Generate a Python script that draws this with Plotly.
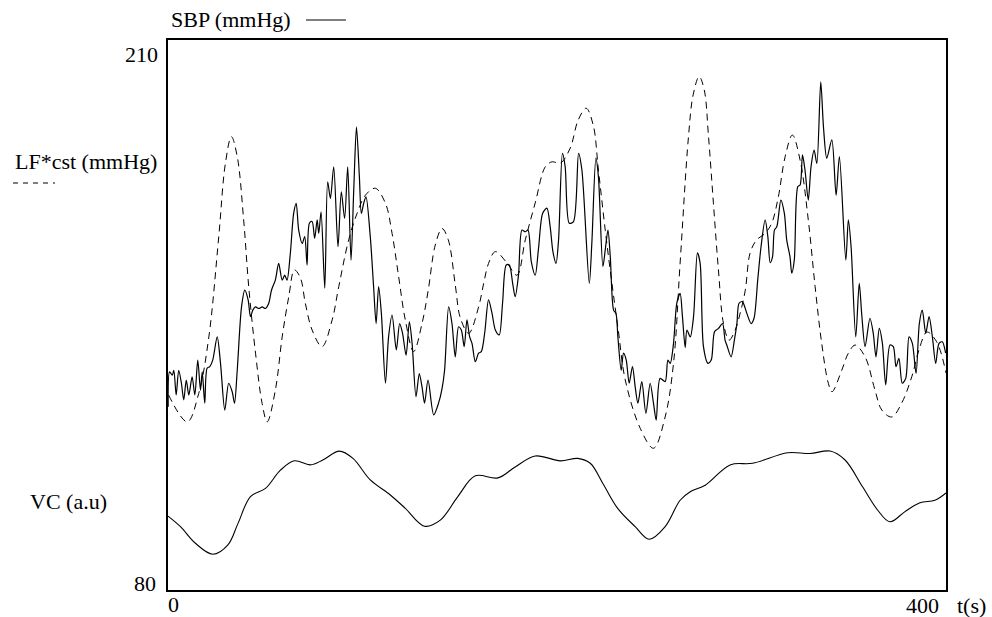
import plotly.graph_objects as go

# ---- data ----
sbp_t = [0.1, 0.8, 2.2, 3.0, 4.2, 5.5, 6.9, 8.1, 9.4, 10.7, 12.4, 13.8, 15.3, 16.7, 17.6, 18.9, 20.1, 21.5, 23.0, 25.3,
         27.0, 29.2, 31.2, 33.0, 34.2, 35.6, 37.8, 39.5, 41.2, 42.4, 43.6, 45.0, 46.7, 48.4, 50.1, 51.8, 53.2, 55.2, 56.9, 58.7,
         60.0, 61.2, 62.9, 64.6, 65.9, 67.2, 69.0, 70.3, 71.5, 72.7, 74.1, 75.4, 76.7, 77.5, 78.7, 80.6, 82.1, 83.5, 85.2, 87.4,
         89.1, 90.8, 92.4, 94.1, 95.5, 96.9, 98.4, 99.4, 100.6, 101.8, 104.0, 105.7, 107.0, 108.3, 109.7, 111.8, 113.4, 115.2, 117.4, 119.1,
         120.6, 122.4, 124.1, 125.5, 127.5, 129.2, 130.6, 131.9, 133.7, 136.6, 139.1, 140.9, 142.2, 144.3, 146.0, 147.7, 149.4, 150.8, 152.3, 153.7,
         155.1, 156.3, 158.0, 159.7, 161.1, 162.8, 164.8, 166.6, 168.3, 170.3, 172.0, 173.9, 175.5, 177.2, 178.5, 180.2, 182.0, 183.7, 185.1, 186.8,
         188.8, 190.5, 192.6, 194.8, 196.5, 197.9, 199.5, 200.8, 202.8, 204.2, 206.3, 208.5, 211.1, 212.8, 216.6, 217.9, 220.0, 221.3, 223.6, 224.8,
         226.2, 227.4, 229.1, 230.3, 231.3, 233.0, 234.2, 235.6, 237.1, 238.8, 240.2, 241.6, 243.6, 245.7, 247.9, 249.6, 251.0, 253.0, 255.6, 257.0,
         258.2, 259.9, 261.6, 263.3, 264.5, 265.9, 266.8, 268.5, 270.2, 272.2, 273.6, 275.3, 277.6, 279.3, 281.0, 283.0, 285.1, 286.4, 287.3, 289.5,
         291.2, 292.5, 293.6, 295.3, 297.6, 299.8, 301.3, 303.2, 304.9, 307.0, 308.4, 309.6, 310.8, 311.8, 313.0, 315.1, 316.9, 318.1, 319.8, 320.7,
         322.0, 323.8, 325.0, 326.2, 327.5, 329.2, 330.6, 332.2, 333.6, 335.6, 337.0, 338.7, 341.3, 343.5, 345.2, 348.5, 349.8, 351.2, 353.6, 355.4,
         356.7, 358.4, 360.9, 362.6, 364.0, 365.7, 367.3, 369.0, 371.2, 372.9, 374.3, 375.8, 377.5, 379.3, 381.0, 382.7, 384.6, 386.3, 387.8, 389.6,
         391.3, 393.0, 394.7, 396.4, 398.1, 399.8]
sbp_v = [123.4, 132.0, 131.2, 132.4, 126.3, 132.4, 129.2, 125.1, 130.0, 126.3, 130.8, 126.3, 134.9, 127.5, 132.0, 124.3, 132.9, 133.3, 134.9, 140.6,
         134.1, 122.6, 129.2, 127.1, 124.3, 132.4, 148.0, 152.1, 149.7, 145.6, 147.2, 148.0, 147.6, 148.0, 147.6, 148.9, 152.1, 154.6, 158.7, 154.6,
         155.8, 154.6, 161.2, 171.0, 173.5, 166.9, 163.6, 165.3, 158.3, 168.6, 169.0, 164.9, 169.4, 166.1, 171.4, 152.6, 178.8, 174.7, 182.5, 162.8,
         176.3, 169.8, 182.5, 159.5, 176.8, 192.3, 180.0, 171.0, 173.5, 175.1, 165.3, 153.0, 143.9, 153.0, 146.4, 129.2, 140.6, 146.0, 137.4, 143.9,
         141.5, 136.1, 144.3, 139.0, 125.9, 131.6, 128.3, 124.3, 130.0, 121.4, 124.3, 127.9, 132.4, 148.0, 143.9, 135.7, 143.1, 142.3, 138.2, 144.8,
         140.6, 139.0, 134.5, 136.6, 137.0, 141.5, 149.7, 146.4, 142.3, 141.1, 148.9, 158.3, 158.3, 153.8, 150.5, 155.8, 166.9, 166.5, 166.9, 159.1,
         155.8, 162.4, 171.0, 172.3, 167.7, 161.6, 158.7, 164.5, 185.8, 182.5, 168.6, 169.0, 185.8, 181.7, 153.8, 163.6, 184.6, 180.0, 157.9, 162.0,
         166.9, 160.3, 147.2, 146.4, 140.6, 132.4, 136.6, 134.9, 129.2, 133.3, 128.3, 124.3, 129.6, 121.8, 129.2, 124.3, 120.1, 130.4, 129.6, 134.9,
         134.1, 139.0, 148.9, 151.3, 145.6, 138.0, 142.3, 140.6, 145.6, 161.3, 158.7, 138.2, 134.1, 134.9, 141.9, 142.7, 143.9, 139.8, 138.6, 135.7,
         139.8, 143.9, 148.9, 149.3, 146.4, 143.9, 145.2, 154.6, 162.8, 169.4, 165.3, 158.9, 160.3, 166.9, 167.7, 174.3, 171.0, 164.5, 160.3, 156.3,
         159.5, 177.6, 178.0, 185.4, 181.7, 174.3, 182.5, 186.6, 183.3, 203.4, 192.3, 184.6, 189.1, 175.5, 185.0, 159.5, 169.4, 162.8, 140.6, 153.8,
         146.0, 138.2, 145.2, 141.5, 135.7, 142.7, 139.0, 128.8, 138.6, 138.2, 133.3, 135.3, 129.2, 130.4, 140.6, 139.0, 131.6, 143.9, 147.2, 141.5,
         145.6, 140.6, 134.1, 139.0, 139.4, 136.6]

lf_t = [0.3, 9.9, 15.8, 21.0, 26.1, 29.5, 32.6, 35.6, 38.9, 41.5, 45.0, 48.4, 51.0, 55.2, 58.7, 62.1, 65.0, 68.1, 70.6, 74.1,
        79.2, 84.4, 87.8, 92.9, 97.2, 101.5, 106.6, 111.8, 115.2, 118.6, 122.0, 126.3, 130.6, 133.8, 137.4, 140.9, 144.1, 147.7, 150.3, 154.6,
        159.7, 162.3, 164.8, 168.3, 174.3, 179.4, 183.7, 188.8, 194.0, 197.4, 201.7, 206.8, 210.9, 215.0, 218.6, 221.3, 224.8, 228.2, 231.5, 235.1,
        242.8, 249.6, 255.6, 259.9, 263.3, 267.6, 270.0, 273.1, 275.7, 277.9, 280.4, 283.0, 285.6, 288.5, 291.6, 294.2, 296.8, 299.3, 302.7, 307.0,
        310.4, 313.8, 317.3, 321.0, 325.0, 329.2, 332.7, 336.1, 339.5, 341.4, 346.4, 349.8, 353.3, 358.4, 363.5, 367.0, 372.1, 377.2, 382.4, 386.1,
        390.2, 395.2, 400.0]
lf_v = [126.3, 119.7, 126.7, 140.6, 165.3, 183.3, 189.9, 185.0, 169.4, 153.0, 136.6, 124.2, 119.7, 127.5, 140.6, 150.5, 157.1, 155.1, 148.9, 142.3,
        138.2, 144.8, 153.0, 164.5, 171.0, 175.5, 177.2, 173.5, 166.1, 155.4, 144.8, 137.0, 143.9, 152.1, 163.2, 167.3, 164.5, 153.4, 145.3, 141.5,
        148.0, 153.8, 158.7, 161.6, 158.8, 155.8, 164.5, 173.6, 182.5, 183.7, 183.4, 187.1, 194.0, 196.9, 192.8, 181.7, 166.9, 153.9, 142.3, 130.0,
        118.1, 113.2, 120.9, 134.1, 158.8, 189.9, 200.2, 204.7, 201.4, 189.9, 173.6, 157.1, 143.9, 139.8, 142.3, 146.5, 152.1, 161.3, 164.5, 166.1,
        168.6, 175.1, 185.0, 190.3, 184.1, 169.4, 153.0, 139.0, 129.2, 127.1, 132.4, 136.6, 138.6, 135.7, 127.5, 122.6, 120.9, 124.3, 130.8, 137.4,
        141.8, 139.4, 131.7]

vc_t = [0.0, 6.4, 14.1, 23.1, 30.8, 36.0, 42.4, 50.1, 57.8, 65.0, 73.2, 79.6, 88.1, 95.1, 104.0, 114.3, 122.0, 131.8, 140.0, 149.0,
        158.0, 169.6, 178.5, 188.8, 201.7, 210.7, 217.1, 223.5, 231.2, 240.2, 247.4, 255.6, 263.3, 268.5, 276.2, 289.0, 300.6, 318.6, 330.1, 340.4,
        348.1, 357.1, 364.8, 371.2, 378.9, 386.6, 394.3, 400.0]
vc_v = [96.5, 93.9, 89.8, 87.1, 89.4, 94.7, 101.3, 103.3, 107.8, 110.1, 109.1, 110.3, 112.5, 110.7, 105.4, 101.7, 98.4, 94.0, 95.5, 101.3,
        106.4, 105.9, 108.6, 111.3, 110.1, 110.7, 109.5, 104.6, 98.4, 93.9, 90.8, 93.9, 100.4, 102.5, 104.1, 109.1, 109.5, 112.1, 111.9, 112.5,
        110.3, 103.7, 98.0, 95.1, 97.6, 99.8, 100.4, 102.2]

y_tick_labels = ["210", "80"]
x_tick_labels = ["0", "400"]

FONT = "Liberation Serif, Times New Roman, serif"
FS = 22

fig = go.Figure()
fig.add_trace(go.Scatter(x=lf_t, y=lf_v, mode="lines", name="LF*cst (mmHg)",
                         line=dict(color="black", width=1, dash="7px,5px", shape="spline", smoothing=1.0)))
fig.add_trace(go.Scatter(x=sbp_t, y=sbp_v, mode="lines", name="SBP (mmHg)",
                         line=dict(color="black", width=1.2, shape="spline", smoothing=0.8)))
fig.add_trace(go.Scatter(x=vc_t, y=vc_v, mode="lines", name="VC (a.u)",
                         line=dict(color="black", width=1.1, shape="spline", smoothing=1.0)))

W, H = 992, 617
L, R, T, B = 168, 46, 40, 27
pw, ph = W - L - R, H - T - B


def px(x):
    return (x - L) / pw


def py(y):
    return (H - B - y) / ph


ann = []
def add_text(text, x, y, xanchor):
    ann.append(dict(text=text, x=px(x), y=py(y), xref="paper", yref="paper", showarrow=False,
                    xanchor=xanchor, yanchor="middle", font=dict(family=FONT, size=FS, color="black")))

add_text("SBP (mmHg)", 293, 20, "right")
add_text("LF*cst (mmHg)", 159, 161, "right")
add_text("VC (a.u)", 109, 501, "right")
add_text(y_tick_labels[0], 160, 55, "right")
add_text(y_tick_labels[1], 158, 583, "right")
add_text(x_tick_labels[0], 166, 604, "left")
add_text(x_tick_labels[1], 941, 605, "right")
add_text("t(s)", 955, 605, "left")

shapes = [
    dict(type="line", xref="paper", yref="paper", x0=px(306), x1=px(346), y0=py(20), y1=py(20),
         line=dict(color="black", width=1)),
    dict(type="line", xref="paper", yref="paper", x0=px(13), x1=px(55), y0=py(183), y1=py(183),
         line=dict(color="black", width=1, dash="5px,5px")),
]

fig.update_layout(
    width=W, height=H,
    margin=dict(l=L, r=R, t=T, b=B, pad=0),
    paper_bgcolor="white", plot_bgcolor="white",
    showlegend=False,
    annotations=ann, shapes=shapes,
    xaxis=dict(range=[0, 400], showgrid=False, zeroline=False, showticklabels=False, ticks="",
               showline=True, mirror=True, linecolor="black", linewidth=1.5),
    yaxis=dict(range=[78.3, 213.7], showgrid=False, zeroline=False, showticklabels=False, ticks="",
               showline=True, mirror=True, linecolor="black", linewidth=1.5),
)

fig.write_html("out.html")
